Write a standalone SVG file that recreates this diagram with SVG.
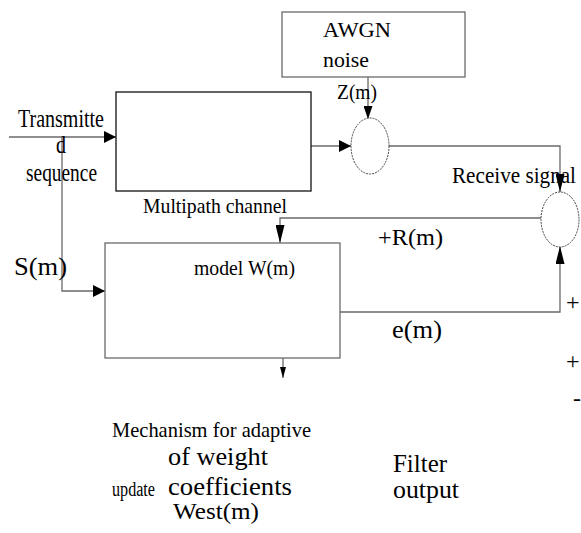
<svg xmlns="http://www.w3.org/2000/svg" width="581" height="533" viewBox="0 0 581 533">
<defs>
<style>
.t{font-family:"Liberation Serif","Times New Roman",serif;fill:#000;}
.box{fill:#fff;stroke:#6a6a6a;stroke-width:1.3;}
.boxk{fill:#fff;stroke:#111;stroke-width:1.3;}
.ln{fill:none;stroke:#6a6a6a;stroke-width:1.3;}
.sum{fill:#fff;stroke:#444;stroke-width:1;stroke-dasharray:2 1;}
</style>
<marker id="aw" viewBox="0 0 12 12" refX="12" refY="6" markerWidth="12" markerHeight="12" markerUnits="userSpaceOnUse" orient="auto"><path d="M0,0 L12,6 L0,12 z" fill="#000"/></marker>
<marker id="av" viewBox="0 0 13 9" refX="13" refY="4.5" markerWidth="13" markerHeight="9" markerUnits="userSpaceOnUse" orient="auto"><path d="M0,0 L13,4.5 L0,9 z" fill="#000"/></marker>
<marker id="an" viewBox="0 0 18 9" refX="18" refY="4.5" markerWidth="18" markerHeight="9" markerUnits="userSpaceOnUse" orient="auto"><path d="M0,0 L18,4.5 L0,9 z" fill="#000"/></marker>
<marker id="as" viewBox="0 0 11 6" refX="11" refY="3" markerWidth="11" markerHeight="6" markerUnits="userSpaceOnUse" orient="auto"><path d="M0,0 L11,3 L0,6 z" fill="#000"/></marker>
</defs>
<rect width="581" height="533" fill="#fff"/>

<g id="connectors">
<path class="ln" d="M9,137 H116" marker-end="url(#aw)"/>
<path class="ln" d="M62,137 V291 H105" marker-end="url(#aw)"/>
<path class="ln" d="M311,146 H351" marker-end="url(#aw)"/>
<path class="ln" d="M368,77 V119" marker-end="url(#av)"/>
<path class="ln" d="M389,146 H560 V192" marker-end="url(#an)"/>
<path class="ln" d="M541,218 H280 V243" marker-end="url(#an)"/>
<path class="ln" d="M340,312 H560 V246" marker-end="url(#an)"/>
<path class="ln" d="M283,358 V378" marker-end="url(#as)"/>
</g>

<g id="awgn">
<rect class="box" x="282" y="12" width="183" height="65"/>
<text class="t" x="323" y="37" font-size="21" textLength="68" lengthAdjust="spacingAndGlyphs">AWGN</text>
<text class="t" x="323" y="67" font-size="21" textLength="46" lengthAdjust="spacingAndGlyphs">noise</text>
</g>

<g id="multipath">
<rect class="boxk" x="116" y="92" width="195" height="99"/>
<text class="t" x="143" y="213" font-size="22" textLength="144" lengthAdjust="spacingAndGlyphs">Multipath channel</text>
</g>

<g id="sum1">
<ellipse class="sum" cx="370" cy="146" rx="19" ry="28"/>
</g>

<g id="sum2">
<ellipse class="sum" cx="560" cy="219.5" rx="19" ry="27.5"/>
</g>

<g id="model">
<rect class="box" x="105" y="243" width="235" height="115"/>
<text class="t" x="194" y="275" font-size="22" textLength="101" lengthAdjust="spacingAndGlyphs">model W(m)</text>
</g>

<g id="labels">
<text class="t" x="18" y="127" font-size="25" textLength="86" lengthAdjust="spacingAndGlyphs">Transmitte</text>
<text class="t" x="56" y="153" font-size="25" textLength="10" lengthAdjust="spacingAndGlyphs">d</text>
<text class="t" x="26" y="181" font-size="25" textLength="71" lengthAdjust="spacingAndGlyphs">sequence</text>
<text class="t" x="337" y="99" font-size="20" textLength="40" lengthAdjust="spacingAndGlyphs">Z(m)</text>
<text class="t" x="452" y="183" font-size="24" textLength="124" lengthAdjust="spacingAndGlyphs">Receive signal</text>
<text class="t" x="14" y="275" font-size="26" textLength="53" lengthAdjust="spacingAndGlyphs">S(m)</text>
<text class="t" x="378" y="245" font-size="24" textLength="65" lengthAdjust="spacingAndGlyphs">+R(m)</text>
<text class="t" x="392" y="338" font-size="26" textLength="50" lengthAdjust="spacingAndGlyphs">e(m)</text>
<text class="t" x="566" y="310" font-size="24">+</text>
<text class="t" x="566" y="369" font-size="24">+</text>
<text class="t" x="573" y="406" font-size="24">-</text>
<text class="t" x="112" y="437" font-size="22" textLength="199" lengthAdjust="spacingAndGlyphs">Mechanism for adaptive</text>
<text class="t" x="168" y="465" font-size="26" textLength="100" lengthAdjust="spacingAndGlyphs">of weight</text>
<text class="t" x="112" y="496" font-size="20" textLength="43" lengthAdjust="spacingAndGlyphs">update</text>
<text class="t" x="168" y="495" font-size="25" textLength="124" lengthAdjust="spacingAndGlyphs">coefficients</text>
<text class="t" x="173" y="519" font-size="24" textLength="86" lengthAdjust="spacingAndGlyphs">West(m)</text>
<text class="t" x="393" y="472" font-size="25" textLength="54" lengthAdjust="spacingAndGlyphs">Filter</text>
<text class="t" x="393" y="498" font-size="26" textLength="66" lengthAdjust="spacingAndGlyphs">output</text>
</g>
</svg>
